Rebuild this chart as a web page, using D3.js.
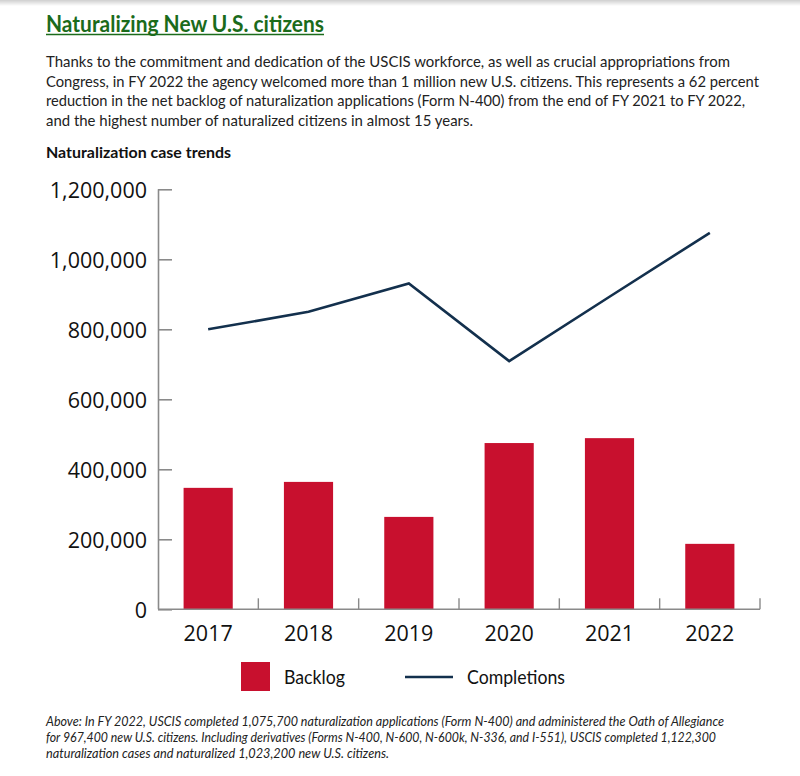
<!DOCTYPE html>
<html><head><meta charset="utf-8">
<script src="https://cdn.jsdelivr.net/npm/d3@7"></script>
<style>
html,body{margin:0;padding:0;background:#fff;}
svg{display:block;}
</style></head>
<body>
<script>
// ---- data ----
const years = ["2017","2018","2019","2020","2021","2022"];
const backlog = [347000, 364000, 264000, 475000, 489000, 187000];
const completions = [800000, 850000, 931000, 709000, 893000, 1075700];
const yTicks = [0, 200000, 400000, 600000, 800000, 1000000, 1200000];
const legendLabels = ["Backlog", "Completions"];
const titleText = "Naturalizing New U.S. citizens";
const bodyLines = [
  "Thanks to the commitment and dedication of the USCIS workforce, as well as crucial appropriations from",
  "Congress, in FY 2022 the agency welcomed more than 1 million new U.S. citizens. This represents a 62 percent",
  "reduction in the net backlog of naturalization applications (Form N-400) from the end of FY 2021 to FY 2022,",
  "and the highest number of naturalized citizens in almost 15 years."
];
const subtitleText = "Naturalization case trends";
const noteLines = [
  "Above: In FY 2022, USCIS completed 1,075,700 naturalization applications (Form N-400) and administered the Oath of Allegiance",
  "for 967,400 new U.S. citizens. Including derivatives (Forms N-400, N-600, N-600k, N-336, and I-551), USCIS completed 1,122,300",
  "naturalization cases and naturalized 1,023,200 new U.S. citizens."
];

// ---- layout ----
const W = 800, H = 776;
const barColor = "#c8102e", lineColor = "#13304d", green = "#1b6b1b";
const textFont = "Lato, 'Open Sans', sans-serif";
const axisFont = "'Open Sans', sans-serif";

const svg = d3.select("body").append("svg").attr("width", W).attr("height", H);

// top shadow
const defs = svg.append("defs");
const grad = defs.append("linearGradient").attr("id","topShade").attr("x1",0).attr("x2",0).attr("y1",0).attr("y2",1);
grad.append("stop").attr("offset","0%").attr("stop-color","#cfcfcf");
grad.append("stop").attr("offset","100%").attr("stop-color","#ffffff");
svg.append("rect").attr("x",0).attr("y",0).attr("width",W).attr("height",6).attr("fill","url(#topShade)");

// title
svg.append("text").attr("x",46).attr("y",32)
  .attr("font-family",textFont).attr("font-weight","bold").attr("font-size",22)
  .attr("fill",green).attr("textLength",278).attr("lengthAdjust","spacingAndGlyphs")
  .text(titleText);
svg.append("line").attr("x1",46).attr("x2",324).attr("y1",34.5).attr("y2",34.5)
  .attr("stroke",green).attr("stroke-width",1.5);

// body
const bodyWidths = [684, 713, 699, 427];
bodyLines.forEach((t,i)=>{
  svg.append("text").attr("x",46).attr("y",67 + i*19.6)
    .attr("font-family",textFont).attr("font-size",15).attr("fill","#222")
    .attr("textLength",bodyWidths[i]).attr("lengthAdjust","spacingAndGlyphs")
    .text(t);
});

// subtitle
svg.append("text").attr("x",46).attr("y",158)
  .attr("font-family",textFont).attr("font-weight","bold").attr("font-size",16).attr("fill","#111")
  .attr("textLength",185).attr("lengthAdjust","spacingAndGlyphs")
  .text(subtitleText);

// scales
const x = d3.scaleBand().domain(years).range([158, 760]).paddingInner(0.51).paddingOuter(0.255);
const xEdges = d3.scaleBand().domain(years).range([158, 760]).padding(0);
const y = d3.scaleLinear().domain([0, 1200000]).range([609.3, 189.3]);

// bars
svg.append("g").selectAll("rect").data(years).join("rect")
  .attr("x", d=>x(d)).attr("width", x.bandwidth())
  .attr("y", (d,i)=>y(backlog[i])).attr("height",(d,i)=>y(0)-y(backlog[i]))
  .attr("fill", barColor);

// line
const line = d3.line().x((d,i)=>xEdges(years[i]) + xEdges.bandwidth()/2).y(d=>y(d));
svg.append("path").datum(completions).attr("d", line)
  .attr("fill","none").attr("stroke",lineColor).attr("stroke-width",2.6).attr("stroke-linejoin","miter");

// y axis
const yAxis = d3.axisRight(y).tickValues(yTicks).tickSize(14).tickFormat(d3.format(","));
const gy = svg.append("g").attr("transform","translate(158,0)").call(yAxis);
gy.select(".domain").attr("stroke","#8a8a8a").attr("stroke-width",1.6).attr("d","M0.5,189.3V609.3");
gy.selectAll(".tick line").attr("stroke","#8a8a8a").attr("stroke-width",1.6);
gy.selectAll(".tick text").attr("x",-11).attr("text-anchor","end").attr("dy","0.36em")
  .attr("font-family",axisFont).attr("font-size",21.5).attr("fill","#111");

// x axis
const gx = svg.append("g").attr("transform","translate(0,609.3)");
gx.append("line").attr("x1",158).attr("x2",760).attr("y1",0).attr("y2",0)
  .attr("stroke","#8a8a8a").attr("stroke-width",1.6);
gx.selectAll("line.xt").data(years).join("line").attr("class","xt")
  .attr("x1",d=>xEdges(d)+xEdges.bandwidth()).attr("x2",d=>xEdges(d)+xEdges.bandwidth())
  .attr("y1",0).attr("y2",-11).attr("stroke","#8a8a8a").attr("stroke-width",1.4);
gx.selectAll("text").data(years).join("text")
  .attr("x",d=>xEdges(d)+xEdges.bandwidth()/2).attr("y",32)
  .attr("text-anchor","middle").attr("font-family",axisFont).attr("font-size",21.5).attr("fill","#111")
  .text(d=>d);

// legend
const lg = svg.append("g");
lg.append("rect").attr("x",241).attr("y",662).attr("width",29).attr("height",29).attr("fill",barColor);
lg.append("text").attr("x",284).attr("y",684).attr("font-family",textFont).attr("font-size",20).attr("fill","#111")
  .attr("textLength",61).attr("lengthAdjust","spacingAndGlyphs").text(legendLabels[0]);
lg.append("line").attr("x1",405).attr("x2",453).attr("y1",677).attr("y2",677).attr("stroke",lineColor).attr("stroke-width",2.6);
lg.append("text").attr("x",467).attr("y",684).attr("font-family",textFont).attr("font-size",20).attr("fill","#111")
  .attr("textLength",98).attr("lengthAdjust","spacingAndGlyphs").text(legendLabels[1]);

// footnote
const noteWidths = [678, 670, 343];
noteLines.forEach((t,i)=>{
  svg.append("text").attr("x",46).attr("y",726 + i*16)
    .attr("font-family",textFont).attr("font-style","italic").attr("font-size",12.5).attr("fill","#222")
    .attr("textLength",noteWidths[i]).attr("lengthAdjust","spacingAndGlyphs").text(t);
});
</script>
</body></html>
